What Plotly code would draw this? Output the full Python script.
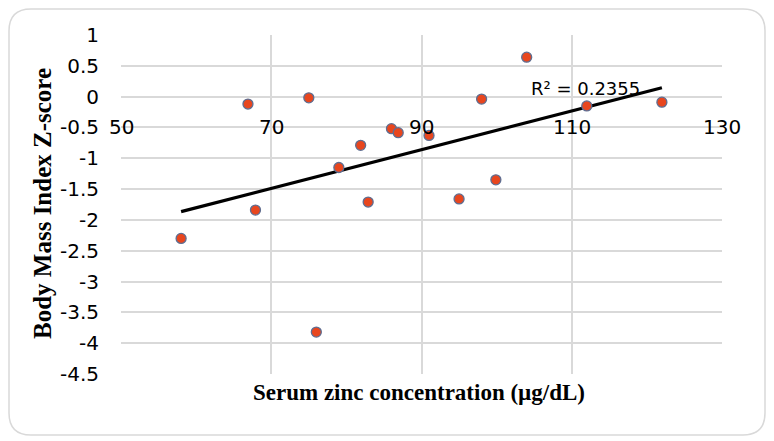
import numpy as np
import plotly.graph_objects as go

# Data
zinc = [58.0, 66.9, 67.9, 75.0, 76.0, 79.0, 81.9, 82.9, 86.0, 86.9, 91.0, 95.0, 98.0, 99.9, 104.0, 112.0, 122.0]
bmi_z = [-2.30, -0.12, -1.84, -0.02, -3.82, -1.15, -0.79, -1.71, -0.52, -0.585, -0.63, -1.66, -0.04, -1.35, 0.64, -0.15, -0.09]
x_ticks = [50, 70, 90, 110, 130]
y_ticks = [1, 0.5, 0, -0.5, -1, -1.5, -2, -2.5, -3, -3.5, -4, -4.5]
r2_label = "R² = 0.2355"

OFF = 8  # page body margin of the browser
W, H = 774 - OFF, 441 - OFF
L, R, T, B = 121 - OFF, 722 - OFF, 35 - OFF, 374 - OFF  # plot area in figure pixels

def px(xp):
    return (xp - OFF - L) / (R - L)

def py(yp):
    return (B - (yp - OFF)) / (B - T)

# Linear trendline fitted from the data
slope, intercept = np.polyfit(zinc, bmi_z, 1)
tx = [min(zinc), max(zinc)]
ty = [slope * v + intercept for v in tx]

fig = go.Figure()
fig.add_trace(go.Scatter(
    x=tx, y=ty, mode="lines",
    line=dict(color="black", width=3.2),
    hoverinfo="skip", showlegend=False,
))
fig.add_trace(go.Scatter(
    x=zinc, y=bmi_z, mode="markers",
    marker=dict(size=10, color="#E8461E", line=dict(color="#5E6E92", width=1.3)),
    showlegend=False,
))

tick_font = dict(family="DejaVu Sans", size=20, color="#000000")

fig.update_xaxes(
    range=[50, 130], tickvals=x_ticks, showticklabels=False,
    showgrid=True, gridcolor="#D9D9D9", gridwidth=1.5,
    zeroline=False, showline=False, ticks="",
)
fig.update_yaxes(
    range=[-4.5, 1], tickvals=y_ticks, ticktext=[f"{v:g}" for v in y_ticks],
    tickfont=tick_font, ticklabelstandoff=21,
    showgrid=True, gridcolor="#D9D9D9", gridwidth=1.5,
    zeroline=False, showline=False, ticks="",
)

annotations = []
# x tick labels drawn on the axis that crosses at y = -0.5
for v in x_ticks:
    annotations.append(dict(
        x=v, y=-0.5, xref="x", yref="y", text=str(v), showarrow=False,
        xanchor="center", yanchor="middle", font=tick_font,
    ))
annotations.append(dict(
    x=px(585), y=py(88), xref="paper", yref="paper", text=r2_label, showarrow=False,
    xanchor="center", yanchor="middle", font=dict(family="DejaVu Sans", size=18, color="#000"),
))
annotations.append(dict(
    x=px(418.5), y=py(392), xref="paper", yref="paper",
    text="<b>Serum zinc concentration (µg/dL)</b>", showarrow=False,
    xanchor="center", yanchor="middle",
    font=dict(family="Liberation Serif", size=23, color="#000"),
))
annotations.append(dict(
    x=px(42), y=py(204), xref="paper", yref="paper",
    text="<b>Body Mass Index Z-score</b>", showarrow=False, textangle=-90,
    xanchor="center", yanchor="middle",
    font=dict(family="Liberation Serif", size=25, color="#000"),
))

# Rounded chart border
x0, y0, x1, y1, r = 9, 9, 765, 435, 22
path = (
    f"M {px(x0 + r)} {py(y0)} L {px(x1 - r)} {py(y0)} "
    f"Q {px(x1)} {py(y0)} {px(x1)} {py(y0 + r)} "
    f"L {px(x1)} {py(y1 - r)} Q {px(x1)} {py(y1)} {px(x1 - r)} {py(y1)} "
    f"L {px(x0 + r)} {py(y1)} Q {px(x0)} {py(y1)} {px(x0)} {py(y1 - r)} "
    f"L {px(x0)} {py(y0 + r)} Q {px(x0)} {py(y0)} {px(x0 + r)} {py(y0)} Z"
)

fig.update_layout(
    width=W, height=H,
    margin=dict(l=L, r=W - R, t=T, b=H - B),
    paper_bgcolor="white", plot_bgcolor="white",
    annotations=annotations,
    shapes=[dict(type="path", path=path, xref="paper", yref="paper",
                 line=dict(color="#D9D9D9", width=1.5), layer="below")],
    showlegend=False,
)

fig.write_html("out.html")
